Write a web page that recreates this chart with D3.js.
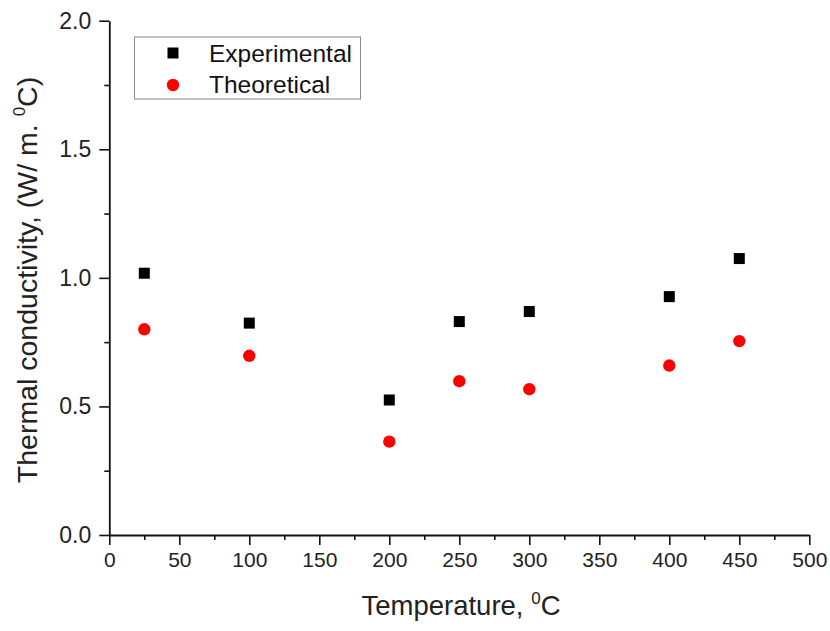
<!DOCTYPE html>
<html><head><meta charset="utf-8">
<script src="https://cdn.jsdelivr.net/npm/d3@7"></script>
<style>body{margin:0;background:#fff;} svg{display:block;font-family:"Liberation Sans",Arial,sans-serif;}</style>
</head><body>
<svg id="c" width="830" height="631"></svg>
<script>
const temperatures = [25, 100, 200, 250, 300, 400, 450];
const experimental = [1.018, 0.824, 0.525, 0.830, 0.869, 0.927, 1.075];
const theoretical = [0.800, 0.697, 0.363, 0.598, 0.567, 0.659, 0.754];
const xTicks = [0, 50, 100, 150, 200, 250, 300, 350, 400, 450, 500];
const yTicks = [0.0, 0.5, 1.0, 1.5, 2.0];
const seriesNames = ["Experimental", "Theoretical"];

const svg = d3.select("#c");
const m = {l: 109.3, r: 809.3, t: 20.7, b: 535};
const x = d3.scaleLinear().domain([0, 500]).range([m.l, m.r]);
const y = d3.scaleLinear().domain([0, 2]).range([m.b, m.t]);

// minor ticks
const xMinor = d3.range(25, 500, 50);
const yMinor = d3.range(0.25, 2, 0.5);
svg.append("g").attr("transform", `translate(0,${m.b})`)
  .call(d3.axisBottom(x).tickValues(xMinor).tickSize(5).tickSizeOuter(0).tickFormat(""))
  .call(g => g.select(".domain").remove())
  .selectAll("line").attr("stroke", "#111").attr("stroke-width", 1.6);
svg.append("g").attr("transform", `translate(${m.l},0)`)
  .call(d3.axisLeft(y).tickValues(yMinor).tickSize(5).tickSizeOuter(0).tickFormat(""))
  .call(g => g.select(".domain").remove())
  .selectAll("line").attr("stroke", "#111").attr("stroke-width", 1.6);

// major axes
const gx = svg.append("g").attr("transform", `translate(0,${m.b})`)
  .call(d3.axisBottom(x).tickValues(xTicks).tickSize(10).tickSizeOuter(0).tickPadding(8).tickFormat(d3.format("d")));
const gy = svg.append("g").attr("transform", `translate(${m.l},0)`)
  .call(d3.axisLeft(y).tickValues(yTicks).tickSize(10).tickSizeOuter(0).tickPadding(8).tickFormat(d3.format(".1f")));
[gx, gy].forEach(g => {
  g.select(".domain").attr("stroke", "#111").attr("stroke-width", 1.8);
  g.selectAll(".tick line").attr("stroke", "#111").attr("stroke-width", 1.6);
  g.selectAll(".tick text").attr("fill", "#222");
});
gx.selectAll(".tick text").attr("y", 17).style("font-size", "21px");
gy.selectAll(".tick text").style("font-size", "23px");

// axis titles
const xt = svg.append("text").attr("x", 461).attr("y", 615).attr("text-anchor", "middle")
  .attr("fill", "#222").style("font-size", "27.5px");
xt.append("tspan").text("Temperature, ");
xt.append("tspan").text("0").style("font-size", "17px").attr("dy", -11);
xt.append("tspan").text("C").attr("dy", 11);

const yt = svg.append("text").attr("transform", `translate(37,280) rotate(-90)`).attr("text-anchor", "middle")
  .attr("fill", "#222").style("font-size", "28.5px");
yt.append("tspan").text("Thermal conductivity, (W/ m. ");
yt.append("tspan").text("0").style("font-size", "17px").attr("dy", -12);
yt.append("tspan").text("C)").attr("dy", 12);

// data
const sq = 11;
svg.append("g").selectAll("rect").data(temperatures.map((t, i) => [t, experimental[i]]))
  .join("rect").attr("x", d => x(d[0]) - sq / 2).attr("y", d => y(d[1]) - sq / 2)
  .attr("width", sq).attr("height", sq).attr("fill", "#000");
svg.append("g").selectAll("circle").data(temperatures.map((t, i) => [t, theoretical[i]]))
  .join("circle").attr("cx", d => x(d[0])).attr("cy", d => y(d[1])).attr("r", 6.2).attr("fill", "#f00");

// legend
const lg = svg.append("g");
lg.append("rect").attr("x", 134.5).attr("y", 37).attr("width", 226).attr("height", 62)
  .attr("fill", "#fff").attr("stroke", "#888").attr("stroke-width", 1);
lg.append("rect").attr("x", 173 - sq / 2).attr("y", 53 - sq / 2).attr("width", sq).attr("height", sq).attr("fill", "#000");
lg.append("circle").attr("cx", 173).attr("cy", 85).attr("r", 6.2).attr("fill", "#f00");
lg.selectAll("text.l").data(seriesNames).join("text").attr("class", "l")
  .attr("x", 209).attr("y", (d, i) => 62 + i * 31).attr("fill", "#111").style("font-size", "24.5px").text(d => d);
</script>
</body></html>
